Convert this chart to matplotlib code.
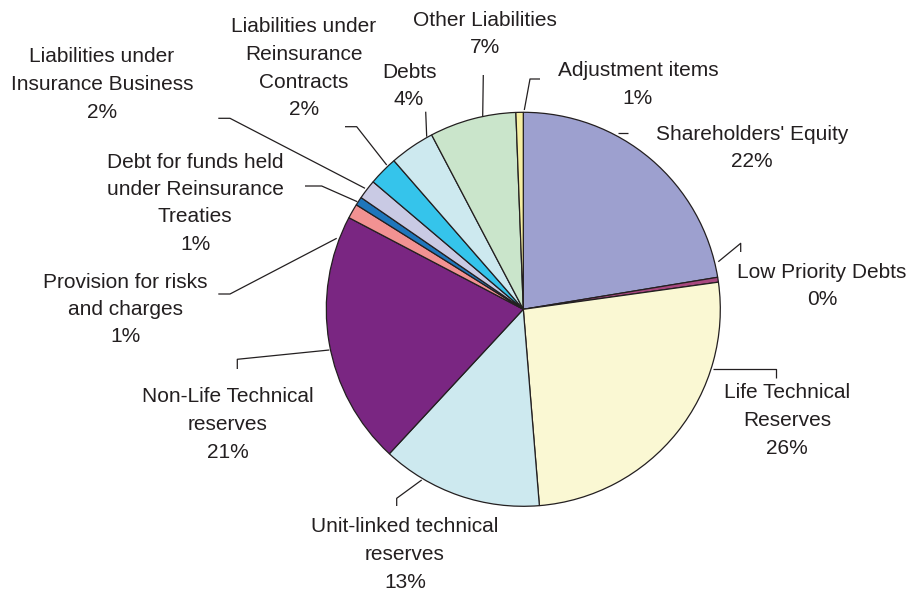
import matplotlib
matplotlib.use("Agg")
import matplotlib.pyplot as plt

# liabilities breakdown, clockwise from 12 o'clock (percent of total)
categories = [
    "Shareholders' Equity",
    "Low Priority Debts",
    "Life Technical\nReserves",
    "Unit-linked technical\nreserves",
    "Non-Life Technical\nreserves",
    "Provision for risks\nand charges",
    "Debt for funds held\nunder Reinsurance\nTreaties",
    "Liabilities under\nInsurance Business",
    "Liabilities under\nReinsurance\nContracts",
    "Debts",
    "Other Liabilities",
    "Adjustment items",
]
shares = [22.4, 0.4, 25.9, 13.2, 20.8, 1.2, 0.7, 1.6, 2.4, 3.7, 7.1, 0.6]
colors = ["#9da0cf", "#a8487f", "#faf8d3", "#cde9ef", "#7a2682", "#f29292",
          "#1f76bb", "#c9cae4", "#35c4eb", "#cde9ef", "#cae5cb", "#f6efa2"]

# label layout in pixels: centre x, first-line y, leader polyline
label_x = [752, 822, 787, 405, 228, 125, 195, 102, 304, 409, 485, 638]
label_y = [134, 272, 393, 527, 397, 282, 162, 57, 27, 72, 20, 71]
leaders = [
    [(618, 133), (628, 133)],
    [(718.3, 261.7), (740.7, 243.3), (740.7, 252)],
    [(713.3, 369), (775.7, 369), (775.7, 378)],
    [(421.7, 480), (396.7, 498.3), (396.7, 506)],
    [(329.3, 350), (237.3, 359.3), (237.3, 369)],
    [(336.7, 238.3), (230, 294), (218.3, 294)],
    [(357.3, 201.7), (321.7, 186), (305, 186)],
    [(365, 188.3), (230, 118.3), (218.3, 118.3)],
    [(386.7, 165), (356.7, 126.7), (345, 126.7)],
    [(426.7, 136.7), (425.7, 111.7)],
    [(482.7, 116), (483.3, 75)],
    [(524.3, 110), (530, 79), (540, 79)],
]

W, H = 912, 590
CX, CY, R = 523.3, 309.3, 197.0
LINE_STEP = 27.5
INK = "#231f20"


def px(x, y):
    """pixel position -> data coords (pie centred at origin, radius 1)"""
    return (x - CX) / R, (CY - y) / R


plt.rcParams["font.family"] = ["Liberation Sans", "DejaVu Sans"]
fig = plt.figure(figsize=(W / 100, H / 100), dpi=100)
ax = fig.add_axes([0, 0, 1, 1])

ax.pie(shares, colors=colors, startangle=90, counterclock=False, radius=1,
       wedgeprops=dict(edgecolor=INK, linewidth=0.9))

for name, val, lx, ly, path in zip(categories, shares, label_x, label_y, leaders):
    xs, ys = zip(*[px(x, y) for x, y in path])
    ax.plot(xs, ys, color=INK, lw=0.9, solid_capstyle="butt")
    lines = name.split("\n") + [f"{val:.0f}%"]
    for i, line in enumerate(lines):
        tx, ty = px(lx, ly + i * LINE_STEP)
        ax.text(tx, ty, line, ha="center", va="center", fontsize=15,
                color=INK)

x0, y0 = px(0, 0)
x1, y1 = px(W, H)
ax.set_xlim(x0, x1)
ax.set_ylim(y1, y0)
ax.set_aspect("equal")
ax.axis("off")

fig.savefig("out.png", dpi=100)
